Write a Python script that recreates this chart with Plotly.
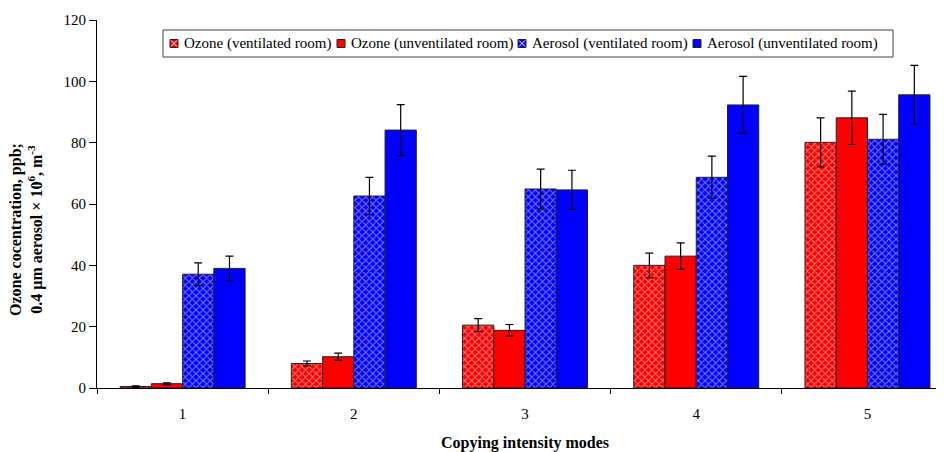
import plotly.graph_objects as go

categories = ["1", "2", "3", "4", "5"]
series_names = ["Ozone (ventilated room)", "Ozone (unventilated room)",
                "Aerosol (ventilated room)", "Aerosol (unventilated room)"]
ozone_vent = [0.5, 8.0, 20.5, 40.0, 80.1]
ozone_vent_err = [0.2, 0.8, 2.1, 4.0, 8.0]
ozone_unvent = [1.4, 10.2, 18.8, 43.0, 88.1]
ozone_unvent_err = [0.3, 1.2, 1.9, 4.3, 8.7]
aerosol_vent = [37.1, 62.6, 64.9, 68.7, 81.1]
aerosol_vent_err = [3.7, 6.1, 6.5, 6.9, 8.1]
aerosol_unvent = [39.0, 84.1, 64.6, 92.3, 95.6]
aerosol_unvent_err = [4.0, 8.3, 6.4, 9.3, 9.6]

x_title = "Copying intensity modes"
y_title = "Ozone cocentration, ppb;<br>0.4 µm aerosol × 10<sup>6</sup>, m<sup>-3</sup>"

values = [ozone_vent, ozone_unvent, aerosol_vent, aerosol_unvent]
errors = [ozone_vent_err, ozone_unvent_err, aerosol_vent_err, aerosol_unvent_err]
colors = ["#ff0000", "#ff0000", "#0000ff", "#0000ff"]
hatched = [True, False, True, False]

FONT = "Liberation Serif"

# window pixel -> paper coordinates (plot area spans x 97..944, y 20..388 in the window)
PL, PR, PT, PB = 97, 944, 20, 388
def px(X):
    return (X - PL) / (PR - PL)
def py(Y):
    return (PB - Y) / (PB - PT)

fig = go.Figure()
for name, v, e, c, h in zip(series_names, values, errors, colors, hatched):
    marker = dict(color=c, line=dict(color="#222222", width=1))
    if h:
        marker["pattern"] = dict(shape="x", bgcolor=c, fgcolor="white",
                                 size=5, solidity=0.35, fillmode="overlay")
    fig.add_trace(go.Bar(
        x=categories, y=v, name=name, marker=marker, showlegend=False,
        error_y=dict(type="data", array=e, color="black", thickness=1.2, width=4),
    ))

# custom compact legend (box, symbols, labels)
shapes = [dict(type="rect", xref="paper", yref="paper",
               x0=px(163), x1=px(893), y0=py(57), y1=py(30),
               line=dict(color="#444444", width=1), fillcolor="white", layer="above")]
annotations = []
sym_x = [170, 337, 518, 693]
ly = 43.5
for name, c, h, sx in zip(series_names, colors, hatched, sym_x):
    shapes.append(dict(type="rect", xref="paper", yref="paper",
                       x0=px(sx), x1=px(sx + 8), y0=py(ly + 4), y1=py(ly - 4),
                       line=dict(color="#222222", width=1), fillcolor=c, layer="above"))
    if h:
        shapes.append(dict(type="path", xref="paper", yref="paper", layer="above",
                           path=(f"M {px(sx + 1)} {py(ly + 3)} L {px(sx + 7)} {py(ly - 3)} "
                                 f"M {px(sx + 1)} {py(ly - 3)} L {px(sx + 7)} {py(ly + 3)}"),
                           line=dict(color="white", width=1)))
    annotations.append(dict(text=name, xref="paper", yref="paper",
                            x=px(sx + 12), y=py(ly), xanchor="left", yanchor="middle",
                            showarrow=False, font=dict(family=FONT, size=15)))

annotations.append(dict(text="<b>" + x_title + "</b>", xref="paper", yref="paper",
                        x=px(525), y=py(443), xanchor="center", yanchor="middle",
                        showarrow=False, font=dict(family=FONT, size=16)))
annotations.append(dict(text="<b>" + y_title + "</b>", xref="paper", yref="paper",
                        x=px(26), y=py(230), xanchor="center", yanchor="middle",
                        textangle=-90, showarrow=False, font=dict(family=FONT, size=16)))

# page body has an 8px margin: figure is offset by (8, 8) in the window
fig.update_layout(
    width=936, height=444,
    margin=dict(l=PL - 8, r=0, t=PT - 8, b=452 - PB, autoexpand=False),
    paper_bgcolor="white", plot_bgcolor="white",
    barmode="group", bargap=0.27, bargroupgap=0,
    font=dict(family=FONT, size=15, color="black"),
    showlegend=False,
    shapes=shapes,
    annotations=annotations,
)
fig.update_xaxes(
    type="category", range=[-0.5, 4.447],
    showline=True, linecolor="black", linewidth=1,
    ticks="outside", tickson="boundaries", ticklen=5, tickcolor="black",
    ticklabelstandoff=12,
    showgrid=False, zeroline=False,
    tickfont=dict(family=FONT, size=15),
)
fig.update_yaxes(
    range=[0, 120], dtick=20,
    showline=True, linecolor="black", linewidth=1,
    ticks="outside", ticklen=7, tickcolor="black",
    showgrid=False, zeroline=False,
    tickfont=dict(family=FONT, size=15),
)

fig.write_html("out.html")
